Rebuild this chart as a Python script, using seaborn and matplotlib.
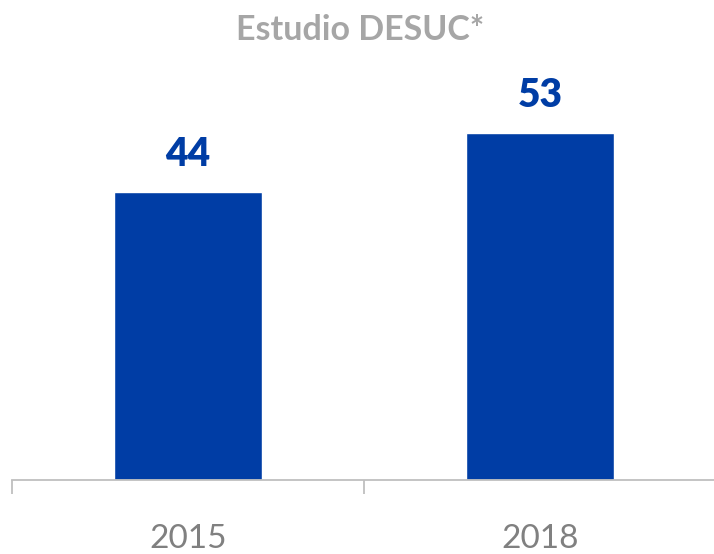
import matplotlib
matplotlib.use("Agg")
import matplotlib.pyplot as plt
import seaborn as sns
import pandas as pd

years = ["2015", "2018"]
values = [44, 53]
title = "Estudio DESUC*"

sns.set_style("white")
plt.rcParams["font.family"] = ["Lato", "DejaVu Sans"]

W, H = 714, 554
fig = plt.figure(figsize=(W / 100, H / 100), dpi=100)
ax = fig.add_axes([12 / W, (H - 480) / H, 704 / W, 480 / H])

df = pd.DataFrame({"year": years, "value": values})
sns.barplot(data=df, x="year", y="value", color="#003DA5", width=0.418,
            saturation=1, ax=ax)

ax.set_xlim(-0.5, 1.5)
ax.set_ylim(0, 480 / (288 / 44))
for s in ["left", "right", "top"]:
    ax.spines[s].set_visible(False)
ax.spines["bottom"].set_color("#BFBFBF")
ax.spines["bottom"].set_linewidth(1.3)
ax.set_yticks([])
ax.set_xlabel("")
ax.set_ylabel("")
ax.set_xticks([-0.5, 0.5, 1.5], minor=True)
ax.tick_params(axis="x", which="minor", bottom=True, direction="out",
               length=10, width=1.3, color="#BFBFBF")
ax.tick_params(axis="x", which="major", bottom=False, length=0, pad=32,
               labelsize=24, labelcolor="#808080")
for lbl in ax.get_xticklabels():
    lbl.set_fontweight("normal")

for i, v in enumerate(values):
    ax.annotate(str(v), (i, v), xytext=(0, 14), textcoords="offset points",
                ha="center", va="bottom", fontsize=28, fontweight="heavy",
                color="#003DA5")

fig.text(360 / W, 1 - 30 / H, title, ha="center", va="center", fontsize=24.5,
         fontweight="bold", color="#A6A6A6")

fig.savefig("out.png", dpi=100)
